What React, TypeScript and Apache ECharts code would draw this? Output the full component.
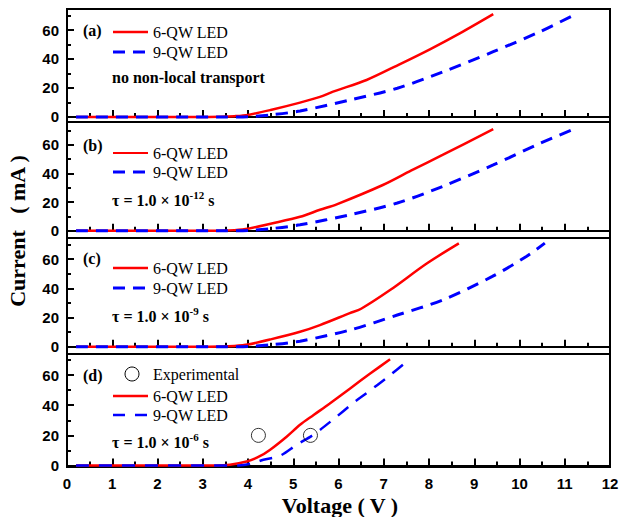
import React, { useEffect, useRef } from "react";
import * as echarts from "echarts";

// ---------- data ----------
const xTicks = [0, 1, 2, 3, 4, 5, 6, 7, 8, 9, 10, 11, 12];
const yTickValues = [0, 20, 40, 60];
const yMinorValues = [10, 30, 50, 70];

// panel (a): no non-local transport
const v6a = [0.2, 3.0, 3.4, 3.7, 4.0, 4.5, 5.15, 5.59, 5.88, 6.62, 7.36, 8.02, 8.69, 9.42];
const i6a = [0, 0, 0.1, 0.5, 1.4, 4.8, 9.9, 13.8, 17.5, 25.5, 36.5, 46.7, 57.9, 71];
const v9a = [0.2, 3.5, 4.0, 4.5, 5.15, 6.25, 7.3, 8.3, 9.42, 10.45, 11.2];
const i9a = [0, 0, 0.2, 1.4, 4.1, 11.7, 19.8, 31, 45, 58.8, 70.3];

// panel (b): tau = 1e-12 s
const v6b = [0.2, 3.0, 3.4, 3.7, 4.0, 4.5, 5.15, 5.59, 5.96, 6.98, 7.6, 8.3, 9.42];
const i6b = [0, 0, 0.1, 0.5, 1.5, 5, 9.8, 14.7, 18.5, 32, 42, 53, 71];
const v9b = [0.2, 3.5, 4.0, 4.5, 5.15, 6.25, 7.3, 8.3, 9.42, 10.45, 11.2];
const i9b = [0, 0, 0.2, 1.5, 4.2, 11.2, 19.4, 31, 46, 61, 71];

// panel (c): tau = 1e-9 s
const v6c = [0.2, 3.0, 3.4, 3.7, 4.0, 4.5, 5.15, 5.59, 6.25, 6.5, 7.14, 7.95, 8.66];
const i6c = [0, 0, 0.1, 0.5, 1.5, 5, 10.2, 14.8, 23, 26, 38.8, 57, 70.8];
const v9c = [0.2, 3.5, 4.0, 4.5, 5.15, 6.25, 7.3, 8.3, 9.39, 10.16, 10.56];
const i9c = [0, 0, 0.2, 1.3, 3.8, 11.4, 21.7, 32, 48, 62, 71];

// panel (d): tau = 1e-6 s
const v6d = [0.2, 3.3, 3.6, 3.97, 4.25, 4.49, 4.86, 5.15, 5.45, 5.8, 6.25, 6.7, 7.14];
const i6d = [0, 0, 0.5, 2.7, 6, 10.5, 19.3, 27, 33.5, 41, 51, 61, 70.5];
const v9d = [0.2, 3.8, 4.1, 4.34, 4.71, 5.08, 5.45, 5.88, 6.33, 6.62, 7.1, 7.55];
const i9d = [0, 0, 1.5, 3.8, 6.5, 13.8, 20.5, 30.5, 41.6, 48, 59, 70];
const expV = [4.23, 5.38];
const expI = [20, 20];

const name6 = "6-QW LED";
const name9 = "9-QW LED";
const nameExp = "Experimental";
const panelLabels = ["(a)", "(b)", "(c)", "(d)"];

// ---------- layout ----------
const GL = 67;
const GW = 543;
const panels = [
  { top: 9, height: 113, min: -3.5, max: 74.5 },
  { top: 122, height: 116, min: -5, max: 76 },
  { top: 238, height: 116, min: -5, max: 74.5 },
  { top: 354, height: 113, min: -1, max: 74 },
];

const SERIF = '"Liberation Serif", "Times New Roman", serif';
const SANS = '"Liberation Sans", Arial, sans-serif';

const pairs = (v: number[], i: number[]) => v.map((x, k) => [x, i[k]]);

function buildOption() {
  const grid = panels.map((p) => ({
    left: GL,
    width: GW,
    top: p.top,
    height: p.height,
    show: true,
    borderColor: "#000",
    borderWidth: 2,
    backgroundColor: "transparent",
    outerBoundsMode: "none",
  }));

  const xAxis = panels.map((p, i) => ({
    gridIndex: i,
    type: "value",
    min: xTicks[0],
    max: xTicks[xTicks.length - 1],
    interval: 1,
    axisLine: { show: true, lineStyle: { color: "#000", width: 2 } },
    axisTick: { show: true, inside: true, length: 7, lineStyle: { color: "#000", width: 2 } },
    minorTick: { show: true, splitNumber: 2, length: 4, lineStyle: { color: "#000", width: 2 } },
    splitLine: { show: false },
    minorSplitLine: { show: false },
    axisLabel: {
      show: i === 3,
      color: "#000",
      fontFamily: SANS,
      fontWeight: "bold",
      fontSize: 15,
      margin: 9,
    },
  }));

  const yAxis: any[] = [];
  panels.forEach((p, i) => {
    yAxis.push({
      gridIndex: i,
      type: "value",
      position: "left",
      min: p.min,
      max: p.max,
      axisLine: { show: true, lineStyle: { color: "#000", width: 2 } },
      axisTick: {
        show: true,
        inside: true,
        length: 7,
        customValues: yTickValues,
        lineStyle: { color: "#000", width: 2 },
      },
      splitLine: { show: false },
      axisLabel: {
        show: true,
        customValues: yTickValues,
        color: "#000",
        fontFamily: SANS,
        fontWeight: "bold",
        fontSize: 15,
        margin: 8,
      },
    });
    yAxis.push({
      gridIndex: i,
      type: "value",
      position: "left",
      offset: 0,
      min: p.min,
      max: p.max,
      axisLine: { show: false },
      axisTick: {
        show: true,
        inside: true,
        length: 4,
        customValues: yMinorValues,
        lineStyle: { color: "#000", width: 2 },
      },
      splitLine: { show: false },
      axisLabel: { show: false },
    });
  });

  const red = (data: number[][], idx: number) => ({
    type: "line",
    name: name6,
    xAxisIndex: idx,
    yAxisIndex: idx * 2,
    data,
    showSymbol: false,
    symbol: "none",
    smooth: 0.3,
    lineStyle: { color: "#ff0000", width: 2.5 },
    itemStyle: { color: "#ff0000" },
    z: 3,
  });
  const blue = (data: number[][], idx: number, dash: number[], width: number) => ({
    type: "line",
    name: name9,
    xAxisIndex: idx,
    yAxisIndex: idx * 2,
    data,
    showSymbol: false,
    symbol: "none",
    smooth: 0.3,
    lineStyle: { color: "#0000ff", width, type: dash },
    itemStyle: { color: "#0000ff" },
    z: 4,
  });

  const series: any[] = [
    red(pairs(v6a, i6a), 0),
    blue(pairs(v9a, i9a), 0, [12, 8], 3),
    red(pairs(v6b, i6b), 1),
    blue(pairs(v9b, i9b), 1, [12, 8], 3),
    red(pairs(v6c, i6c), 2),
    blue(pairs(v9c, i9c), 2, [12, 8], 3),
    red(pairs(v6d, i6d), 3),
    blue(pairs(v9d, i9d), 3, [13, 10], 2.5),
    {
      type: "scatter",
      name: nameExp,
      xAxisIndex: 3,
      yAxisIndex: 6,
      data: pairs(expV, expI),
      symbol: "circle",
      symbolSize: 14,
      itemStyle: { color: "rgba(0,0,0,0)", borderColor: "#000", borderWidth: 1 },
      z: 5,
    },
  ];

  // ---------- annotations / legends ----------
  const g: any[] = [];
  const txt = (x: number, y: number, text: string, opts: any = {}) => ({
    type: "text",
    x,
    y,
    silent: true,
    style: {
      text,
      fill: "#000",
      fontFamily: SERIF,
      fontSize: 16,
      fontWeight: "normal",
      verticalAlign: "middle",
      align: "left",
      ...opts,
    },
  });
  const legLine = (y: number, color: string, width: number, dash?: number[]) => ({
    type: "line",
    silent: true,
    shape: { x1: 113, y1: y, x2: 148, y2: y },
    style: { stroke: color, lineWidth: width, lineDash: dash || null },
  });
  const tau = (y: number, exp: string) => ({
    type: "text",
    x: 112,
    y,
    silent: true,
    style: {
      text: `{m|τ = 1.0 × 10}{s|${exp}}{m| s}`,
      verticalAlign: "middle",
      align: "left",
      rich: {
        m: { fill: "#000", fontFamily: SERIF, fontSize: 16, fontWeight: "bold", lineHeight: 22 },
        s: { fill: "#000", fontFamily: SERIF, fontSize: 11, fontWeight: "bold", verticalAlign: "top", lineHeight: 12 },
      },
    },
  });

  const labelY = [30, 145, 258, 375];
  panelLabels.forEach((l, i) => g.push(txt(83, labelY[i], l, { fontWeight: "bold" })));

  // (a)
  g.push(legLine(32, "#ff0000", 2.5));
  g.push(txt(153, 32, name6));
  g.push(legLine(52, "#0000ff", 3, [12, 8]));
  g.push(txt(153, 52, name9));
  g.push(txt(112, 77, "no non-local transport", { fontWeight: "bold" }));
  // (b)
  g.push(legLine(153, "#ff0000", 2));
  g.push(txt(153, 153, name6));
  g.push(legLine(172, "#0000ff", 3, [12, 8]));
  g.push(txt(153, 172, name9));
  g.push(tau(200, "-12"));
  // (c)
  g.push(legLine(268, "#ff0000", 2.5));
  g.push(txt(153, 268, name6));
  g.push(legLine(288, "#0000ff", 3, [12, 8]));
  g.push(txt(153, 288, name9));
  g.push(tau(316, "-9"));
  // (d)
  g.push({
    type: "circle",
    silent: true,
    shape: { cx: 132, cy: 374, r: 7 },
    style: { fill: "none", stroke: "#000", lineWidth: 1 },
  });
  g.push(txt(153, 374, nameExp));
  g.push(legLine(396, "#ff0000", 2.5));
  g.push(txt(153, 396, name6));
  g.push(legLine(415, "#0000ff", 2.5, [12, 10]));
  g.push(txt(153, 415, name9));
  g.push(tau(442, "-6"));

  // axis titles
  g.push({
    type: "text",
    x: 17,
    y: 231,
    rotation: Math.PI / 2,
    silent: true,
    style: {
      text: "Current   ( mA )",
      fill: "#000",
      fontFamily: SERIF,
      fontSize: 22,
      fontWeight: "bold",
      align: "center",
      verticalAlign: "middle",
    },
  });
  g.push({
    type: "text",
    x: 340,
    y: 505,
    silent: true,
    style: {
      text: "Voltage ( V )",
      fill: "#000",
      fontFamily: SERIF,
      fontSize: 22,
      fontWeight: "bold",
      align: "center",
      verticalAlign: "middle",
    },
  });

  return {
    animation: false,
    backgroundColor: "#ffffff",
    grid,
    xAxis,
    yAxis,
    series,
    graphic: g,
  };
}

export default function App() {
  const ref = useRef<HTMLDivElement>(null);
  useEffect(() => {
    if (!ref.current) return;
    const chart = echarts.init(ref.current, undefined, { renderer: "svg" });
    chart.setOption(buildOption() as any);
    return () => chart.dispose();
  }, []);
  return (
    <div
      style={{
        position: "absolute",
        left: 0,
        top: 0,
        width: 619,
        height: 517,
        overflow: "hidden",
        background: "#fff",
      }}
    >
      <div ref={ref} style={{ width: 660, height: 517 }} />
    </div>
  );
}
